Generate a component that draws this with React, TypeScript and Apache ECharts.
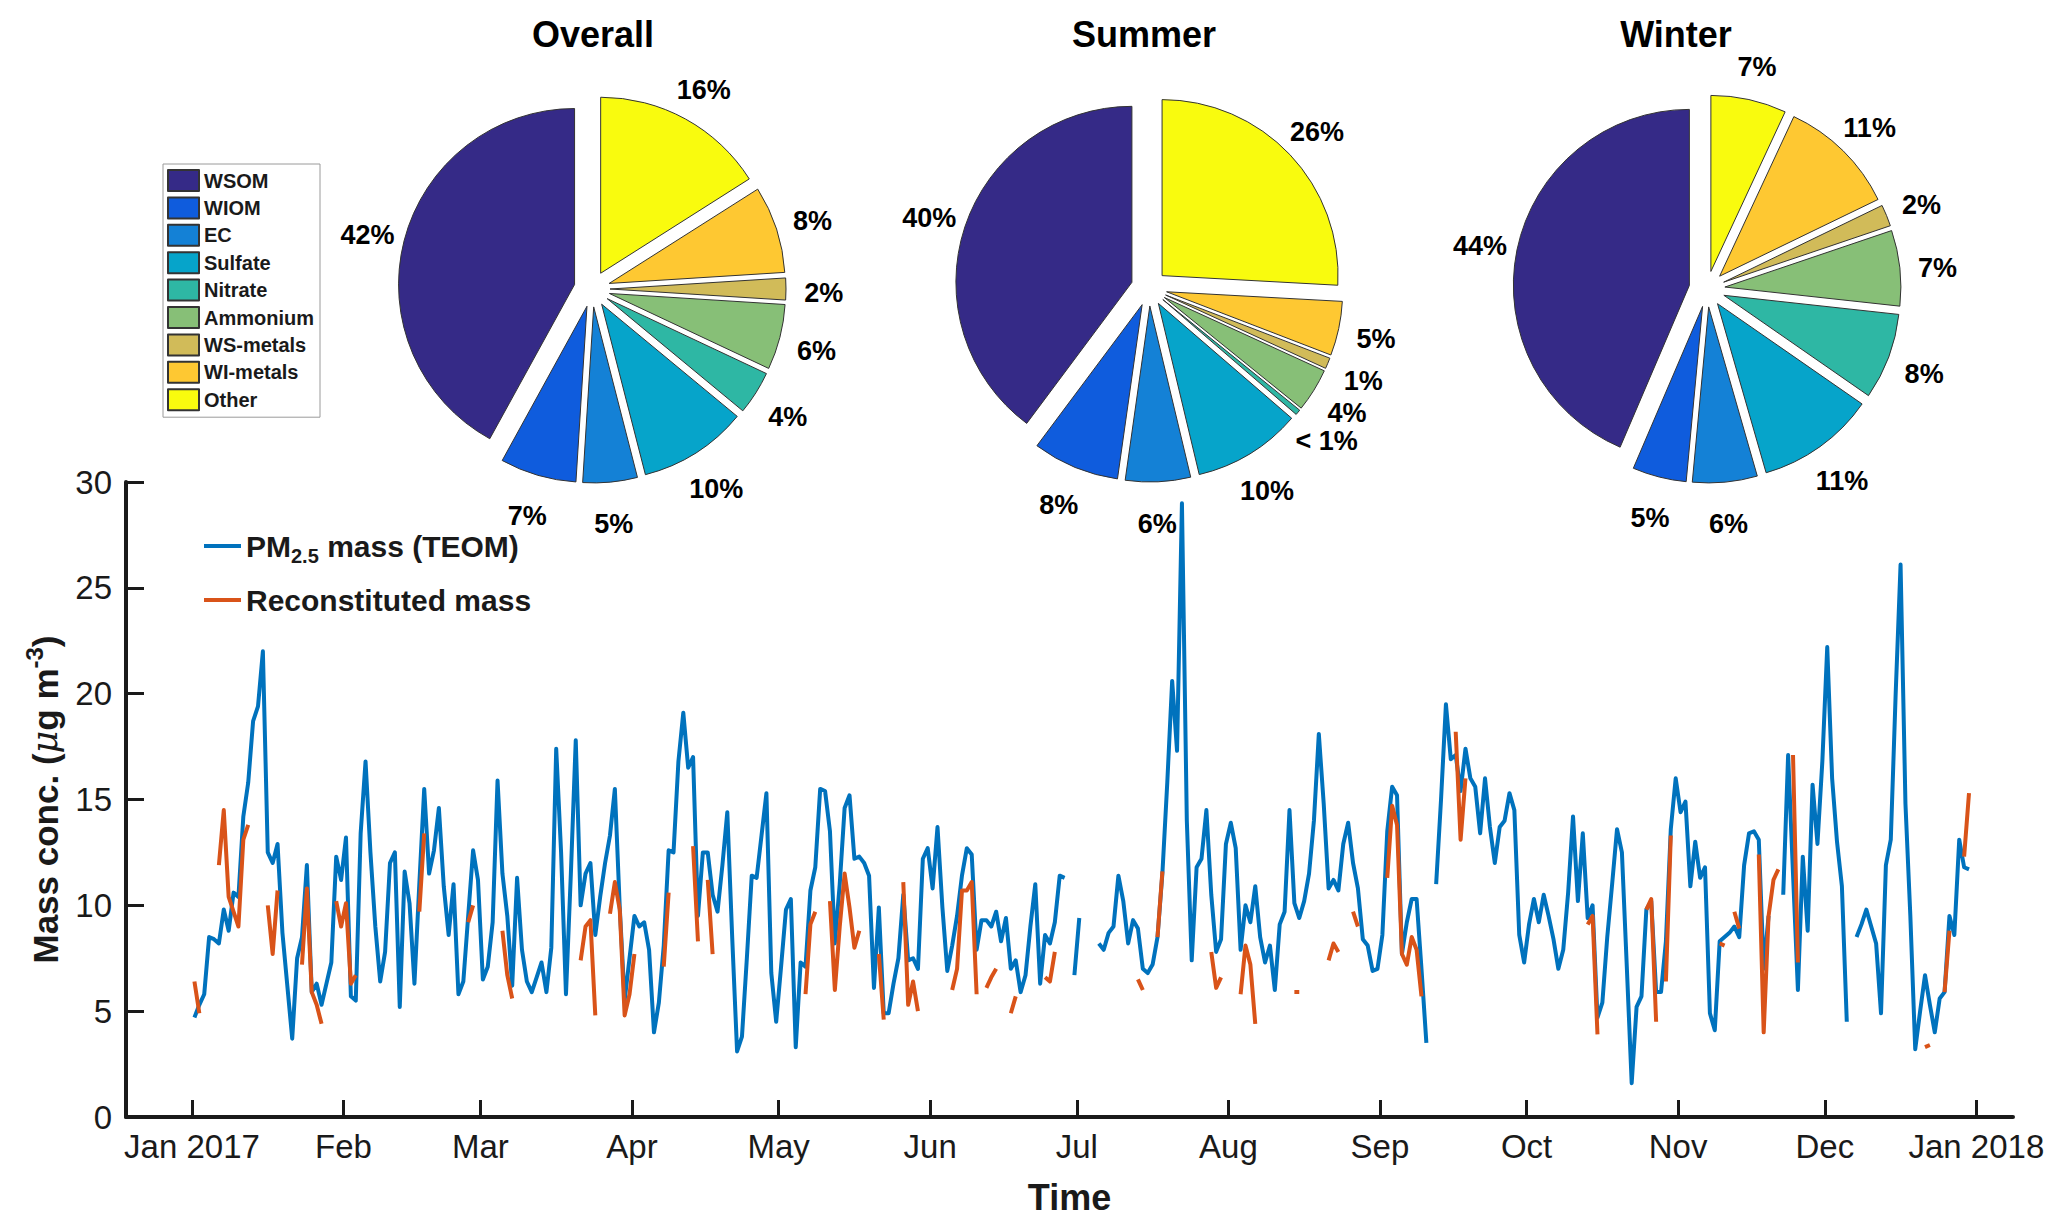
import React, { useEffect, useRef } from 'react';
import * as echarts from 'echarts';

// ---------- axis ticks ----------
const monthStarts = [0, 31, 59, 90, 120, 151, 181, 212, 243, 273, 304, 334, 365];
const monthLabels = ['Jan 2017', 'Feb', 'Mar', 'Apr', 'May', 'Jun', 'Jul', 'Aug', 'Sep', 'Oct', 'Nov', 'Dec', 'Jan 2018'];

// ---------- daily PM2.5 mass (TEOM), day 0 = 1 Jan 2017 ----------
const pm25Teom: (number | null)[] = [
  // Jan
  4.7, 5.3, 5.8, 8.5, 8.4, 8.2, 9.8, 8.8, 10.6, 10.4, 14.2, 15.8, 18.7, 19.4, 22.0, 12.5, 12.0, 12.9, 8.7, 6.2,
  3.7, 7.5, 8.5, 11.9, 5.9, 6.3, 5.3, 6.3, 7.3, 12.3, 11.2,
  // Feb
  13.2, 5.7, 5.5, 13.4, 16.8, 12.5, 9.0, 6.4, 7.8, 12.0, 12.5, 5.2, 11.6, 10.1, 6.3, 11.0, 15.5, 11.5, 12.6, 14.6,
  10.9, 8.6, 11.0, 5.8, 6.4, 9.5, 12.6, 11.2,
  // Mar
  6.5, 7.1, 9.2, 15.9, 11.5, 9.5, 6.2, 11.3, 7.9, 6.4, 5.9, 6.6, 7.3, 5.9, 8.0, 17.4, 12.5, 5.8, 11.5, 17.8,
  10.0, 11.5, 12.0, 8.6, 10.4, 12.0, 13.3, 15.5, 9.9, 5.5, 7.5,
  // Apr
  9.5, 9.0, 9.2, 7.9, 4.0, 5.4, 8.1, 12.6, 12.5, 16.8, 19.1, 16.5, 17.0, 9.5, 12.5, 12.5, 10.5, 9.7, 11.9, 14.4,
  8.5, 3.1, 3.8, 7.5, 11.4, 11.3, 13.3, 15.3, 6.8, 4.5,
  // May
  7.1, 9.8, 10.3, 3.3, 7.3, 7.1, 10.7, 11.8, 15.5, 15.4, 13.5, 8.2, 11.0, 14.6, 15.2, 12.2, 12.3, 12.0, 11.4, 6.1,
  9.9, 4.9, 4.9, 6.3, 7.5, 10.5, 7.4, 7.5, 7.0, 12.2, 12.7,
  // Jun
  10.8, 13.7, 9.9, 6.9, 8.1, 9.5, 11.4, 12.7, 12.4, 7.9, 9.3, 9.3, 9.0, 9.7, 8.3, 9.4, 7.0, 7.4, 5.9, 6.7,
  9.0, 11.0, 6.3, 8.6, 8.2, 9.2, 11.4, 11.3, null, 6.7,
  // Jul
  9.4, null, null, null, 8.2, 7.9, 8.7, 9.0, 11.4, 10.2, 8.2, 9.3, 8.9, 7.0, 6.8, 7.2, 8.5, 11.5, 15.8, 20.6,
  17.3, 29.0, 14.0, 7.4, 11.8, 12.2, 14.5, 10.5, 7.8, 8.4, 12.9,
  // Aug
  13.9, 12.7, 7.9, 10.0, 9.2, 10.9, 8.5, 7.3, 8.1, 6.0, 9.1, 9.7, 14.5, 10.1, 9.4, 10.2, 11.5, 14.0, 18.1, 14.8,
  10.8, 11.2, 10.7, 12.9, 13.9, 12.0, 10.8, 8.4, 8.1, 6.9, 7.0,
  // Sep
  8.6, 13.5, 15.6, 15.2, 7.7, 9.2, 10.3, 10.3, 7.0, 3.5, null, 11.0, 15.0, 19.5, 16.9, 17.1, 15.4, 17.4, 16.0, 15.6,
  13.4, 16.0, 13.7, 12.0, 13.7, 14.0, 15.3, 14.5, 8.6, 7.3,
  // Oct
  9.1, 10.3, 9.2, 10.5, 9.5, 8.4, 7.0, 7.9, 10.6, 14.2, 10.2, 13.4, 9.4, 10.0, 4.7, 5.4, 8.5, 11.0, 13.6, 12.5,
  7.1, 1.6, 5.2, 5.7, 9.8, 10.2, 5.9, 5.9, 8.3, 13.6, 16.0,
  // Nov
  14.4, 14.9, 10.9, 13.0, 11.3, 11.8, 4.9, 4.1, 8.3, 8.5, 8.7, 9.0, 8.5, 11.9, 13.4, 13.5, 13.1, 7.0, 9.5, null,
  null, 10.5, 17.1, 11.5, 6.0, 12.3, 8.8, 15.7, 12.9, 16.8,
  // Dec
  22.2, 16.0, 13.0, 10.9, 4.5, null, 8.5, 9.1, 9.8, 9.0, 8.2, 4.9, 11.9, 13.1, 20.0, 26.1, 14.8, 9.5, 3.2, 5.0,
  6.7, 5.3, 4.0, 5.6, 5.9, 9.5, 8.6, 13.1, 11.8, 11.7,
];

// ---------- reconstituted mass: [first day index, consecutive daily values] ----------
const reconstitutedSegments: [number, number[]][] = [
  [0, [6.4, 4.9]],
  [5, [11.9, 14.5, 10.4, 9.7, 9.0, 13.1, 13.8]],
  [15, [10.0, 7.7, 10.7]],
  [22, [7.2, 10.8, 5.9, 5.3, 4.4]],
  [29, [10.2, 9.0, 10.1, 6.3, 6.7]],
  [46, [9.7, 13.4]],
  [56, [9.2, 10.0]],
  [63, [8.8, 6.7, 5.6]],
  [79, [7.4, 9.0, 9.3, 4.8]],
  [85, [9.6, 11.1, 9.8, 4.8, 5.8, 7.7]],
  [96, [7.1, 10.6]],
  [102, [12.8, 8.3]],
  [105, [11.2, 7.7]],
  [125, [5.8, 9.1, 9.7]],
  [130, [10.2, 6.0, 9.0, 11.5, 9.9, 8.0, 8.8]],
  [140, [7.7, 4.6]],
  [145, [11.1, 5.3, 6.4, 5.0]],
  [155, [6.0, 7.0, 10.7, 10.7, 11.1, 5.8]],
  [162, [6.1, 6.6, 7.0]],
  [167, [4.9, 5.7]],
  [174, [6.6, 6.4, 7.8]],
  [193, [6.5, 6.0]],
  [197, [8.5, 11.6]],
  [208, [7.8, 6.1, 6.6]],
  [214, [5.8, 8.1, 7.2, 4.4]],
  [225, [5.9, 5.9]],
  [232, [7.4, 8.2, 7.8]],
  [237, [9.7, 9.0]],
  [244, [11.3, 14.7, 13.8, 7.7, 7.2, 8.5, 7.9, 5.7]],
  [258, [18.2, 13.1, 16.0]],
  [285, [9.1, 9.5, 3.9]],
  [297, [9.8, 10.3, 4.5]],
  [301, [6.4, 13.3]],
  [312, [8.2, 8.1]],
  [315, [9.7, 8.9]],
  [320, [12.4, 4.0, 9.5, 11.2, 11.7]],
  [327, [17.1, 7.3]],
  [354, [3.3, 3.4]],
  [358, [5.9, 8.8]],
  [362, [12.3, 15.3]],
];

// ---------- pie data ----------
const componentNames = ['WSOM', 'WIOM', 'EC', 'Sulfate', 'Nitrate', 'Ammonium', 'WS-metals', 'WI-metals', 'Other'];
const componentColors = ['#352a87', '#0f5cdd', '#1481d6', '#06a4ca', '#2eb7a4', '#87bf77', '#d1bb59', '#fec832', '#f9fb0e'];
const pieTitles = ['Overall', 'Summer', 'Winter'];
const overallShares = [42, 7, 5, 10, 4, 6, 2, 8, 16];
const summerShares = [40, 8, 6, 10, 0.5, 4, 1, 5, 26];
const winterShares = [44, 5, 6, 11, 8, 7, 2, 11, 7];
const overallLabels = ['42%', '7%', '5%', '10%', '4%', '6%', '2%', '8%', '16%'];
const summerLabels = ['40%', '8%', '6%', '10%', '< 1%', '4%', '1%', '5%', '26%'];
const winterLabels = ['44%', '5%', '6%', '11%', '8%', '7%', '2%', '11%', '7%'];

// ---------- layout ----------
const FONT = '"Liberation Sans", Arial, Helvetica, sans-serif';
const INK = '#1a1a1a';
const BLUE = '#0072BD';
const ORANGE = '#D95319';
const DAY_OFFSET = 0.5;
const PIE_R = 176;
const LABEL_R = PIE_R * 1.3;
const LABEL_DY = 4;
const pieCenters: [number, number][] = [[592, 289], [1149, 288], [1707, 289]];
const titleX = [593, 1144, 1676];

function buildPie(shares: number[], center: [number, number]) {
  return {
    type: 'pie',
    center,
    radius: PIE_R,
    clockwise: false,
    startAngle: 90,
    selectedMode: 'multiple',
    selectedOffset: 18,
    silent: true,
    avoidLabelOverlap: false,
    itemStyle: { borderColor: '#333', borderWidth: 1 },
    select: { itemStyle: { borderColor: '#333', borderWidth: 1 } },
    emphasis: { disabled: true },
    label: { show: false },
    labelLine: { show: false },
    z: 4,
    data: componentNames.map((n, i) => ({
      name: n,
      value: shares[i],
      selected: true,
      itemStyle: { color: componentColors[i] },
    })),
  };
}

// invisible ring carrying the percentage labels at 1.3 R along each slice's bisector
function buildPieLabels(shares: number[], labels: string[], center: [number, number]) {
  return {
    type: 'pie',
    center: [center[0], center[1] + LABEL_DY],
    radius: [LABEL_R - 1, LABEL_R + 1],
    clockwise: false,
    startAngle: 90,
    minAngle: 3,
    minShowLabelAngle: 0,
    silent: true,
    avoidLabelOverlap: false,
    emphasis: { disabled: true },
    itemStyle: { color: 'rgba(0,0,0,0)', borderWidth: 0 },
    label: {
      show: true,
      position: 'inside',
      rotate: 0,
      formatter: (p: any) => labels[p.dataIndex],
      fontSize: 27,
      fontWeight: 'bold',
      fontFamily: FONT,
      color: '#000',
    },
    labelLine: { show: false },
    z: 5,
    data: componentNames.map((n, i) => ({ name: n, value: shares[i] })),
  };
}

export default function App() {
  const ref = useRef<HTMLDivElement>(null);

  useEffect(() => {
    if (!ref.current) return;
    const chart = echarts.init(ref.current, undefined, { renderer: 'svg' });

    const teomData = pm25Teom.map((v, k) => [k + DAY_OFFSET, v === null ? '-' : v]);
    const reconValues: (number | null)[] = new Array(pm25Teom.length).fill(null);
    reconstitutedSegments.forEach(([start, vals]) => {
      vals.forEach((v, i) => {
        reconValues[start + i] = v;
      });
    });
    const reconData = reconValues.map((v, k) => [k + DAY_OFFSET, v === null ? '-' : v]);

    const option: any = {
      animation: false,
      backgroundColor: '#ffffff',
      title: pieTitles.map((t, i) => ({
        text: t,
        left: titleX[i],
        top: 16,
        textAlign: 'center',
        padding: 0,
        textStyle: { fontSize: 36, fontWeight: 'bold', fontFamily: FONT, color: '#000' },
      })),
      legend: [
        {
          data: [
            { name: 'PM2.5 mass (TEOM)', icon: 'rect' },
            { name: 'Reconstituted mass', icon: 'rect' },
          ],
          orient: 'vertical',
          left: 204,
          top: 531,
          padding: 0,
          itemGap: 19,
          itemWidth: 37,
          itemHeight: 4,
          selectedMode: false,
          formatter: (name: string) =>
            name === 'PM2.5 mass (TEOM)' ? '{t|PM}{s|2.5}{t| mass (TEOM)}' : '{t|Reconstituted mass}',
          textStyle: {
            rich: {
              t: { fontSize: 30, fontWeight: 'bold', fontFamily: FONT, color: INK, lineHeight: 40, verticalAlign: 'middle' },
              s: { fontSize: 20, fontWeight: 'bold', fontFamily: FONT, color: INK, lineHeight: 20, verticalAlign: 'bottom' },
            },
          },
        },
        {
          data: componentNames,
          orient: 'vertical',
          left: 163,
          top: 164,
          padding: [5, 6, 6, 4],
          itemGap: 4.4,
          itemWidth: 31,
          itemHeight: 21,
          icon: 'rect',
          selectedMode: false,
          borderColor: '#9a9a9a',
          borderWidth: 1,
          backgroundColor: '#fff',
          textStyle: { fontSize: 20, lineHeight: 21, fontWeight: 'bold', fontFamily: FONT, color: INK },
        },
      ],
      grid: { left: 126, right: 54, top: 482, bottom: 114, containLabel: false },
      xAxis: {
        type: 'value',
        min: -13.5,
        max: 372.5,
        name: 'Time',
        nameLocation: 'middle',
        nameGap: 62,
        nameTextStyle: { fontSize: 36, fontWeight: 'bold', fontFamily: FONT, color: INK },
        axisLine: { show: true, onZero: false, lineStyle: { color: INK, width: 4 } },
        axisTick: { show: true, inside: true, length: 17, customValues: monthStarts, lineStyle: { color: INK, width: 3 } },
        axisLabel: {
          show: true,
          customValues: monthStarts,
          formatter: (v: number) => {
            const i = monthStarts.indexOf(Math.round(v));
            return i >= 0 ? monthLabels[i] : '';
          },
          fontSize: 33,
          fontFamily: FONT,
          color: INK,
          margin: 13,
        },
        splitLine: { show: false },
      },
      yAxis: {
        type: 'value',
        min: 0,
        max: 30,
        interval: 5,
        name: '{n|Mass conc. (}{m|μ}{n|g m}{p|-3}{n|)}',
        nameLocation: 'middle',
        nameRotate: 90,
        nameGap: 58,
        nameTextStyle: {
          rich: {
            n: { fontSize: 35, fontWeight: 'bold', fontFamily: FONT, color: INK, lineHeight: 46, verticalAlign: 'middle' },
            m: { fontSize: 35, fontStyle: 'italic', fontWeight: 'normal', fontFamily: '"DejaVu Serif", serif', color: INK, lineHeight: 46, verticalAlign: 'middle' },
            p: { fontSize: 24, fontWeight: 'bold', fontFamily: FONT, color: INK, lineHeight: 24, verticalAlign: 'top' },
          },
        },
        axisLine: { show: true, onZero: false, lineStyle: { color: INK, width: 4 } },
        axisTick: { show: true, inside: true, length: 18, lineStyle: { color: INK, width: 3 } },
        axisLabel: { fontSize: 33, fontFamily: FONT, color: INK, margin: 14 },
        splitLine: { show: false },
      },
      series: [
        {
          type: 'line',
          name: 'PM2.5 mass (TEOM)',
          data: teomData,
          symbol: 'none',
          connectNulls: false,
          silent: true,
          z: 2,
          itemStyle: { color: BLUE },
          lineStyle: { color: BLUE, width: 4, join: 'round' },
        },
        {
          type: 'line',
          name: 'Reconstituted mass',
          data: reconData,
          symbol: 'none',
          connectNulls: false,
          silent: true,
          z: 3,
          itemStyle: { color: ORANGE },
          lineStyle: { color: ORANGE, width: 4, join: 'round' },
        },
        buildPie(overallShares, pieCenters[0]),
        buildPie(summerShares, pieCenters[1]),
        buildPie(winterShares, pieCenters[2]),
        buildPieLabels(overallShares, overallLabels, pieCenters[0]),
        buildPieLabels(summerShares, summerLabels, pieCenters[1]),
        buildPieLabels(winterShares, winterLabels, pieCenters[2]),
      ],
    };

    chart.setOption(option);
    return () => {
      chart.dispose();
    };
  }, []);

  return (
    <div
      ref={ref}
      style={{ position: 'absolute', left: 0, top: 0, width: 2067, height: 1231, background: '#fff' }}
    />
  );
}
